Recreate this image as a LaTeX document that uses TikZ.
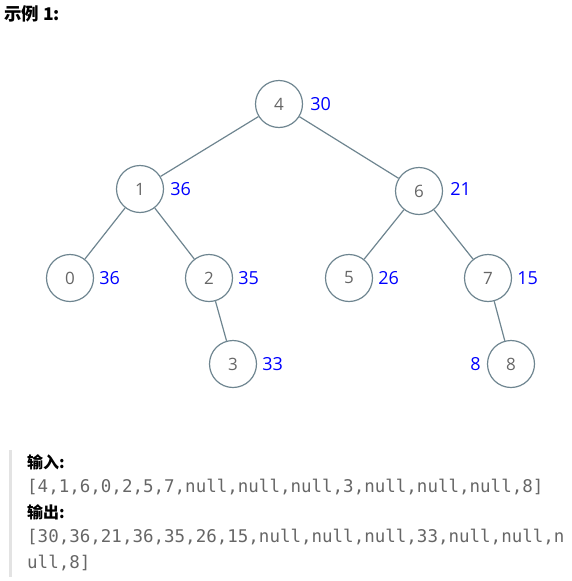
\documentclass[tikz,border=0pt]{standalone}
\usepackage{fontspec}
\setmainfont{Open Sans}
\setmonofont{DejaVu Sans Mono}
\newfontfamily\cjk{Noto Sans CJK SC}
\usetikzlibrary{positioning}
\definecolor{edgegray}{HTML}{6E8590}
\definecolor{keygray}{HTML}{666666}
\definecolor{bargray}{HTML}{E3E3E3}
\tikzset{treenode/.style={
		circle,
		draw=edgegray,
		line width=1.2pt,
		minimum size=47pt,
		inner sep=0pt,
		text=keygray,
		font=\fontsize{17}{17}\selectfont},
	sumlabel/.style={
		text=blue,
		inner sep=1pt,
		font=\fontsize{18}{18}\selectfont},
	treeedge/.style={draw=edgegray, line width=1.2pt},
	headtext/.style={anchor=west, inner sep=0pt, font=\cjk\bfseries\fontsize{16}{16}\selectfont},
	codetext/.style={anchor=west, inner sep=0pt, text=keygray, font=\ttfamily\fontsize{17.5}{17.5}\selectfont}
	}
\begin{document}
\begin{tikzpicture}[x=1pt,y=-1pt]
	\useasboundingbox (0,0) rectangle (572,581);
	\node [headtext, font=\cjk\bfseries\fontsize{17.5}{17.5}\selectfont] (title) at (4,14) {示例 1:};
	% tree
	\node [treenode] (n4) at (279,104) {4};
	\node [treenode] (n1) at (140,189) {1};
	\node [treenode] (n6) at (419,191) {6};
	\node [treenode] (n0) at (70,278) {0};
	\node [treenode] (n2) at (209,278) {2};
	\node [treenode] (n5) at (349,278) {5};
	\node [treenode] (n7) at (488,278) {7};
	\node [treenode] (n3) at (233,364) {3};
	\node [treenode] (n8) at (511,364) {8};
	\draw [treeedge] (n4) -- (n1);
	\draw [treeedge] (n4) -- (n6);
	\draw [treeedge] (n1) -- (n0);
	\draw [treeedge] (n1) -- (n2);
	\draw [treeedge] (n6) -- (n5);
	\draw [treeedge] (n6) -- (n7);
	\draw [treeedge] (n2) -- (n3);
	\draw [treeedge] (n7) -- (n8);
	% sums
	\node [sumlabel, right=6pt of n4] (s4) {30};
	\node [sumlabel, right=5pt of n1] (s1) {36};
	\node [sumlabel, right=6pt of n6, yshift=2pt] (s6) {21};
	\node [sumlabel, right=4pt of n0] (s0) {36};
	\node [sumlabel, right=4pt of n2] (s2) {35};
	\node [sumlabel, right=4pt of n5] (s5) {26};
	\node [sumlabel, right=4pt of n7] (s7) {15};
	\node [sumlabel, right=4pt of n3] (s3) {33};
	\node [sumlabel, left=5pt of n8] (s8) {8};
	% example block
	\fill [bargray] (9,450) rectangle (12,577);
	\node [headtext] (inhead) at (27,462) {输入:};
	\node [codetext] (inline) at (27,487) {[4,1,6,0,2,5,7,null,null,null,3,null,null,null,8]};
	\node [headtext] (outhead) at (27,512) {输出:};
	\node [codetext] (outline) at (27,537) {[30,36,21,36,35,26,15,null,null,null,33,null,null,n};
	\node [codetext] (outrest) at (27,563) {ull,8]};
\end{tikzpicture}
\end{document}
